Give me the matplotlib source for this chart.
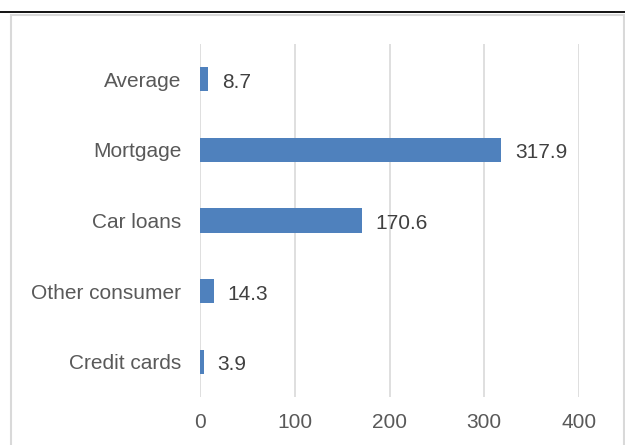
import matplotlib
matplotlib.use("Agg")
import matplotlib.pyplot as plt
from matplotlib.lines import Line2D
from matplotlib.patches import Rectangle

# categories from bottom to top
categories = ["Credit cards", "Other consumer", "Car loans", "Mortgage", "Average"]
values = [3.9, 14.3, 170.6, 317.9, 8.7]
xticks = [0, 100, 200, 300, 400]

plt.rcParams['font.family'] = ['Liberation Sans', 'DejaVu Sans']

W, H = 625, 445
fig = plt.figure(figsize=(W / 100, H / 100), dpi=100)
ax = fig.add_axes([200 / W, 1 - 397 / H, 379 / W, 353 / H])

ypos = range(len(categories))
ax.barh(ypos, values, height=0.34, color="#4F81BD", zorder=3)
for y, v in zip(ypos, values):
    ax.annotate(f"{v:.1f}", (v, y), xytext=(14, -1), textcoords="offset pixels",
                va="center_baseline", ha="left", fontsize=15, color="#404040")

ax.set_xlim(0, 400)
ax.set_ylim(-0.5, len(categories) - 0.5)
ax.set_xticks(xticks)
ax.set_xticklabels([str(t) for t in xticks])
ax.set_yticks(list(ypos))
ax.set_yticklabels(categories, va="center_baseline")
ax.tick_params(axis="both", length=0, labelsize=15, colors="#595959")
ax.tick_params(axis="y", pad=13.5)
ax.tick_params(axis="x", pad=11.5)
ax.grid(axis="x", color="#D9D9D9", linewidth=1.2, zorder=0)
for s in ax.spines.values():
    s.set_visible(False)

# outer chart frame and top rule
fig.add_artist(Rectangle((11 / W, -0.05), (613 / W), 1 - 15 / H + 0.05,
                         transform=fig.transFigure, fill=False,
                         edgecolor="#D9D9D9", linewidth=1.5))
fig.add_artist(Line2D([0, 1], [1 - 12 / H, 1 - 12 / H], transform=fig.transFigure,
                      color="black", linewidth=1.3))

fig.savefig("out.png", dpi=100)
